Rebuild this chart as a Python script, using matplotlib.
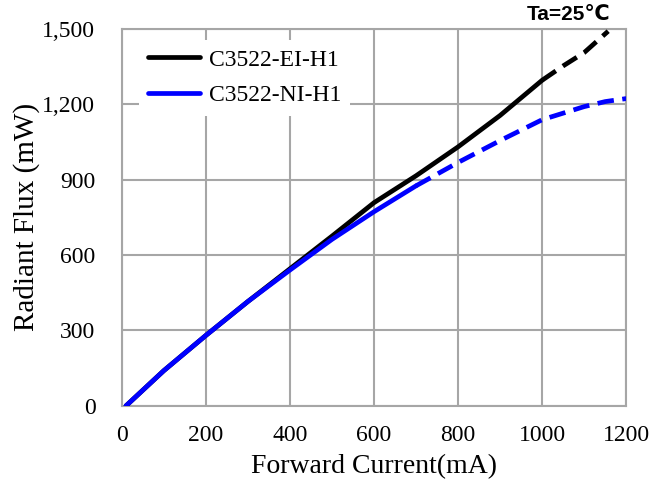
import matplotlib
matplotlib.use("Agg")
import matplotlib.pyplot as plt
from matplotlib.ticker import FuncFormatter

# 数据
ei_x = [10, 100, 200, 300, 400, 500, 600, 700, 800, 900, 1000]
ei_y = [0, 140, 280, 415, 545, 675, 808, 915, 1030, 1155, 1295]
ei_dash_x = [1000, 1050, 1100, 1157]
ei_dash_y = [1295, 1352, 1405, 1490]

ni_x = [10, 100, 200, 300, 400, 500, 600, 700]
ni_y = [0, 140, 280, 415, 540, 662, 772, 875]
ni_dash_x = [700, 800, 900, 1000, 1100, 1150, 1200]
ni_dash_y = [875, 968, 1055, 1138, 1190, 1210, 1222]

labels = ["C3522-EI-H1", "C3522-NI-H1"]
x_ticks = [0, 200, 400, 600, 800, 1000, 1200]
y_ticks = [0, 300, 600, 900, 1200, 1500]

serif = "Liberation Serif"

fig = plt.figure(figsize=(6.62, 4.86), dpi=100)
ax = fig.add_axes([0.184, 0.165, 0.762, 0.776])

# 曲线
ax.plot(ei_x, ei_y, color="black", lw=3.4, solid_capstyle="round", label=labels[0], zorder=3)
ax.plot(ei_dash_x, ei_dash_y, color="black", lw=3.4, dashes=(3.5, 1.8), zorder=3)
ax.plot(ni_x, ni_y, color="#0000ff", lw=3.4, solid_capstyle="round", label=labels[1], zorder=3)
ax.plot(ni_dash_x, ni_dash_y, color="#0000ff", lw=3.4, dashes=(3.5, 1.8), zorder=3)

ax.set_xlim(0, 1200)
ax.set_ylim(0, 1500)
ax.set_xticks(x_ticks)
ax.set_yticks(y_ticks)
ax.yaxis.set_major_formatter(FuncFormatter(lambda v, p: f"{int(v):,}"))
ax.grid(True, color="#a6a6a6", lw=1.5)
for s in ax.spines.values():
    s.set_color("#a6a6a6")
    s.set_linewidth(1.5)
ax.tick_params(length=0)
ax.tick_params(axis="y", pad=19)
ax.tick_params(axis="x", pad=14)
for t in ax.get_xticklabels() + ax.get_yticklabels():
    t.set_fontfamily(serif)
    t.set_fontsize(17)

ax.set_xlabel("Forward Current(mA)", fontfamily=serif, fontsize=20, labelpad=6)
ax.set_ylabel("Radiant Flux (mW)", fontfamily=serif, fontsize=21, labelpad=2)

# 图例
leg = ax.legend(loc="upper left", bbox_to_anchor=(0.02, 0.99), frameon=True,
                prop={"family": serif, "size": 17}, handlelength=2.2,
                handletextpad=0.35, labelspacing=0.6, borderaxespad=0.3,
                fancybox=False)
leg.get_frame().set_edgecolor("none")
leg.get_frame().set_facecolor("white")
leg.get_frame().set_alpha(1)

fig.text(0.922, 0.971, "Ta=25\u2103", ha="right", va="center",
         fontsize=15, fontweight="bold", family=["Liberation Sans", "DejaVu Sans"])

fig.savefig("out.png", dpi=100)
